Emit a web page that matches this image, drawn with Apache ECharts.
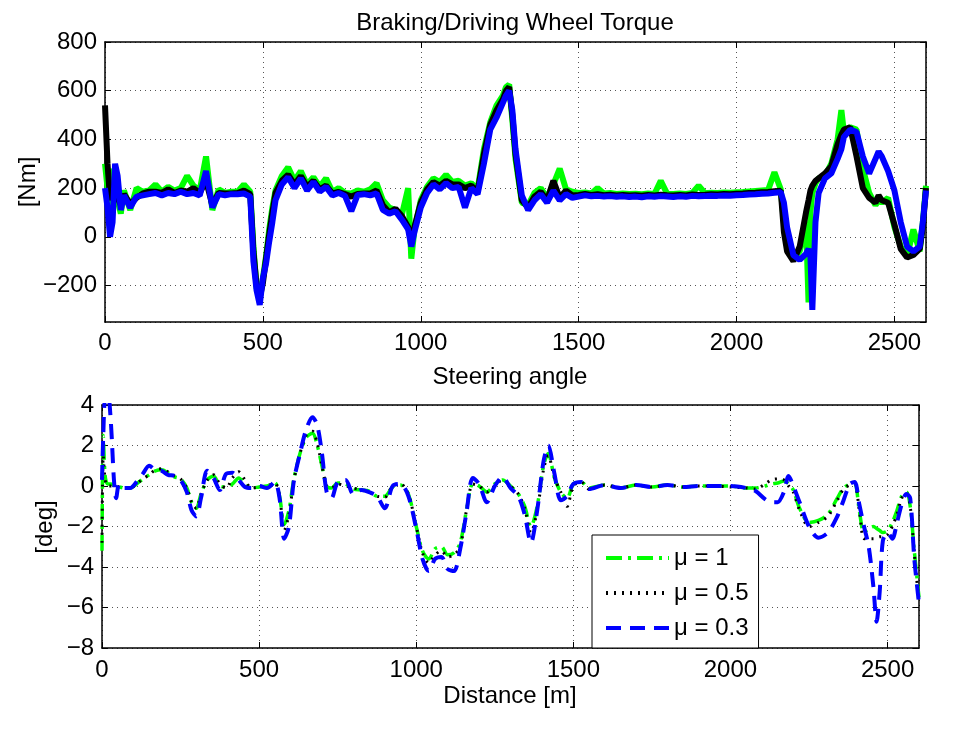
<!DOCTYPE html>
<html>
<head>
  <meta charset="utf-8">
  <title>Braking/Driving Wheel Torque</title>
  <script src="https://cdn.jsdelivr.net/npm/echarts@6.0.0/dist/echarts.min.js"></script>
  <style>
    html, body { margin: 0; padding: 0; background: #fff; }
    #main { width: 957px; height: 730px; }
  </style>
</head>
<body>
  <div id="main"></div>
<script>
(function() {
  // top panel: wheel torque [Nm] against distance
  const torqueDist = [
    0, 8, 16, 24, 32, 40, 50, 60, 80, 100, 120, 140, 160, 180, 200, 220, 240, 260, 280, 300,
    320, 340, 360, 380, 400, 420, 440, 460,
    470, 480, 490, 500, 510, 520, 530, 540, 560, 580, 600, 620, 640, 660, 680, 700, 720, 740, 760, 780,
    800, 820, 840, 860, 880, 900, 920, 940, 960, 970, 980, 1000, 1020, 1040, 1060, 1080, 1100, 1120,
    1140, 1160, 1180,
    1200, 1220, 1240, 1260, 1270, 1280, 1290, 1300, 1320, 1340, 1360, 1380, 1400, 1420, 1440, 1460, 1480,
    1500, 1520, 1540, 1560, 1580, 1600, 1620, 1640, 1660, 1680, 1700, 1720, 1740, 1760, 1780, 1800,
    1820, 1840, 1860, 1880, 1900, 1920, 1940, 1960, 1980, 2000, 2020, 2040, 2060, 2080, 2100, 2120, 2140,
    2150, 2160, 2180, 2200, 2220, 2228, 2234, 2240, 2250, 2260, 2280, 2300, 2320, 2332, 2340, 2360,
    2380, 2400, 2420, 2440, 2450, 2460, 2480, 2500, 2520, 2540, 2560, 2580, 2590, 2600
  ];
  const torqueMu1 = [
    300, 200, 60, 280, 200, 150, 95, 190, 110, 200, 185, 190, 215, 185, 205, 190, 200, 250, 210, 190,
    330, 110, 195, 180, 185, 185, 215, 185,
    -40, -210, -240, -170, -80, 30, 120, 190, 250, 285, 230, 270, 215, 245, 205, 240, 185, 200, 180, 178,
    190, 185, 195, 220, 150, 120, 110, 90, 200, -90, 30, 150, 205, 240, 225, 255, 225, 230,
    210, 220, 195,
    360, 470, 540, 580, 615, 625, 480, 320, 140, 130, 180, 200, 160, 215, 280, 195, 185,
    180, 182, 178, 200, 178, 180, 176, 178, 176, 177, 175, 178, 176, 230, 177, 176,
    178, 176, 180, 210, 179, 181, 180, 182, 181, 183, 184, 186, 188, 190, 192, 265, 195,
    60, -30, -90, -60, 60, -270, 100, 180, 220, 240, 250, 300, 400, 520, 430, 450,
    440, 280, 180, 130, 150, 140, 160, 40, -40, -80, 30, -60, 60, 210
  ];
  const torqueMu05 = [
    540, 300, 150, 200, 180, 160, 130, 175, 135, 160, 178, 185, 185, 180, 195, 180, 190, 185, 200, 180,
    230, 130, 180, 178, 178, 180, 190, 175,
    -60, -200, -250, -190, -90, 10, 100, 180, 230, 255, 215, 250, 205, 230, 195, 210, 178, 184, 175, 165,
    176, 178, 178, 190, 130, 100, 115, 85, 40, -20, 40, 140, 195, 225, 210, 230, 215, 215,
    200, 210, 185,
    340, 460, 520, 565, 600, 615, 500, 340, 150, 120, 165, 185, 150, 230, 160, 190, 170,
    172, 176, 172, 175, 171, 173, 170, 172, 170, 171, 169, 172, 170, 173, 171, 170,
    172, 170, 174, 172, 173, 175, 174, 176, 175, 177, 178, 180, 181, 183, 184, 187, 189,
    20, -60, -100, -40, 100, 150, 190, 210, 230, 240, 260, 290, 380, 420, 440, 450,
    330, 200, 160, 140, 170, 150, 140, 50, -50, -85, -75, -50, 40, 200
  ];
  const torqueMu03 = [
    200, 120, 0, 60, 300, 250, 110, 170, 120, 165, 170, 175, 180, 170, 180, 175, 185, 175, 180, 170,
    270, 120, 175, 170, 175, 175, 178, 165,
    -100, -220, -280, -170, -110, -20, 60, 150, 215, 245, 200, 240, 190, 225, 185, 205, 170, 180, 168, 105,
    172, 175, 170, 178, 110, 95, 105, 70, 30, -40, 20, 120, 180, 215, 195, 220, 200, 205,
    120, 200, 175,
    300, 440, 490, 550, 580, 600, 520, 360, 170, 110, 150, 175, 140, 190, 150, 175, 160,
    165, 170, 166, 168, 165, 167, 164, 166, 163, 165, 162, 166, 164, 167, 165, 163,
    166, 164, 168, 166, 167, 169, 168, 170, 169, 171, 172, 174, 175, 177, 178, 181, 183,
    140, 40, -75, -95, -70, -50, -80, -300, 60, 180, 240, 260, 320, 360, 410, 440,
    430, 330, 260, 320, 350, 330, 270, 190, 60, -40, -60, -40, 60, 190
  ];

  // bottom panel: steering angle [deg] against distance
  const angleDist = [
    0, 4, 10, 18, 28, 38, 45, 55, 70, 90,
    110, 130, 150, 170, 190, 210, 230, 250, 270, 285,
    300, 315, 335, 355, 375, 395, 415, 435, 455, 475,
    500, 525, 550, 565, 580, 595, 610, 630, 650, 670,
    685, 700, 715, 730, 750, 775, 800, 825, 850, 875,
    900, 925, 950, 975, 1000, 1020, 1040, 1060, 1080, 1100,
    1120, 1140, 1160, 1180, 1200, 1225, 1250, 1275, 1300, 1325,
    1345, 1365, 1385, 1405, 1420, 1440, 1460, 1480, 1500, 1525,
    1550, 1600, 1650, 1700, 1750, 1800, 1850, 1900, 1950, 2000,
    2050, 2080, 2110, 2130, 2150, 2170, 2185, 2200, 2220, 2250,
    2280, 2310, 2340, 2360, 2380, 2395, 2410, 2425, 2440, 2455,
    2465, 2475, 2485, 2500, 2515, 2530, 2545, 2560, 2572, 2585,
    2600
  ];
  const angleMu1 = [
    -3.2, 2.5, 0.5, 0.1, 0.1, 0.05, 0.0, -0.05, -0.1, -0.1,
    0.1, 0.35, 0.55, 0.75, 0.8, 0.65, 0.45, 0.35, -0.1, -0.8,
    -1.1, -0.4, 0.3, 0.5, 0.0, -0.05, 0.1, 0.4, 0.1, -0.1,
    -0.05, 0.0, 0.15, -0.5, -1.9, -1.2, 0.3, 1.6, 2.4, 2.6,
    2.0, 1.0, 0.0, -0.1, 0.15, 0.1, -0.15, -0.2, -0.25, -0.5,
    -0.5, -0.05, 0.05, -0.4, -2.0, -3.2, -3.6, -3.1, -3.0, -3.4,
    -3.3, -2.8, -1.2, 0.1, 0.0, -0.3, 0.1, 0.3, 0.0, -0.4,
    -1.0, -2.0, -1.0, 1.0, 1.6, 0.4, -0.3, -0.6, 0.1, 0.2,
    -0.1, 0.05, -0.1, 0.05, -0.05, 0.05, -0.05, 0.0, 0.0, 0.0,
    -0.1, -0.1, 0.0, 0.1, 0.15, 0.25, 0.1, -0.2, -1.1, -1.8,
    -1.7, -1.4, -0.6, -0.1, 0.1, 0.15, -1.2, -2.3, -2.1, -2.0,
    -2.1, -2.2, -2.3, -2.2, -1.8, -1.2, -0.5, -0.3, -1.0, -3.2,
    -5.5
  ];
  const angleMu05 = [
    -2.8, 1.5, 0.3, 0.0, 0.0, 0.0, 0.0, -0.05, -0.1, -0.1,
    0.1, 0.35, 0.55, 0.8, 0.85, 0.7, 0.5, 0.35, -0.1, -0.8,
    -1.1, -0.4, 0.3, 0.55, 0.1, -0.1, 0.4, 0.7, 0.3, -0.1,
    -0.05, 0.0, 0.15, -0.5, -2.2, -1.4, 0.2, 1.6, 2.5, 2.7,
    2.1, 1.0, 0.0, -0.1, 0.1, 0.0, -0.1, -0.2, -0.3, -0.5,
    -0.55, 0.0, 0.1, -0.4, -2.0, -3.3, -3.8, -3.4, -3.2, -3.5,
    -3.4, -3.0, -1.2, 0.1, 0.0, -0.3, 0.0, 0.3, 0.0, -0.4,
    -1.1, -2.3, -1.2, 0.8, 1.5, 0.4, -0.3, -1.0, 0.0, 0.2,
    -0.15, 0.05, -0.1, 0.05, -0.05, 0.05, -0.05, 0.0, 0.0, -0.05,
    -0.1, -0.15, 0.1, 0.3, 0.35, 0.3, 0.0, -0.3, -1.2, -2.0,
    -1.8, -1.5, -0.7, -0.15, 0.05, 0.1, -1.2, -2.6, -2.6, -2.6,
    -2.55, -2.5, -2.5, -2.4, -2.0, -1.4, -0.6, -0.35, -1.0, -3.3,
    -5.8
  ];
  const angleMu03 = [
    0.3, 2.5, 4.5, 4.6, 3.2, 0.3, -0.6, 0.1, -0.1, -0.1,
    0.2, 0.6, 1.0, 0.8, 0.75, 0.55, 0.5, 0.3, -0.3, -1.2,
    -1.5, -0.6, 0.75, 0.4, -0.2, 0.6, 0.65, 0.3, -0.05, -0.1,
    0.0, -0.1, 0.2, -0.6, -2.6, -2.0, 0.2, 1.6, 2.8, 3.4,
    3.0, 1.6, -0.3, -0.6, 0.2, 0.3, -0.4, -0.2, -0.3, -0.5,
    -1.1, 0.0, 0.1, -0.5, -2.1, -3.6, -4.2, -3.6, -3.5, -4.1,
    -4.2, -3.1, -1.3, 0.4, 0.1, -0.8, 0.0, 0.45, -0.1, -0.5,
    -1.4, -2.8, -1.2, 1.2, 2.0, 0.6, -0.7, -0.5, 0.1, 0.2,
    -0.15, 0.05, -0.1, 0.05, -0.05, 0.05, -0.05, 0.0, 0.0, 0.0,
    -0.1, -0.25, -0.65, -0.8, -0.8, -0.3, 0.5, 0.0, -0.8, -2.0,
    -2.55, -2.3, -1.5, -0.7, 0.1, 0.2, -0.9, -2.0, -3.0, -5.0,
    -6.7, -5.2, -2.7, -2.3, -2.6, -1.8, -0.9, -0.4, -0.6, -3.6,
    -5.8
  ];

  const legendNames = ['\u03bc = 1', '\u03bc = 0.5', '\u03bc = 0.3'];

  const FONT = '"Liberation Sans", Arial, Helvetica, sans-serif';
  const FS = 24;
  const pairs = (xs, ys) => xs.map((x, i) => [x, ys[i]]);
  const fmt = v => (v < 0 ? '\u2212' + Math.abs(v) : String(v));

  // MATLAB-like boxed axes: ticks inward on all four sides, dotted grid
  function xAxes(grid, margin) {
    const base = {
      type: 'value', gridIndex: grid, min: 0, max: 2600, interval: 500,
      axisLine: { onZero: false, lineStyle: { color: '#000', width: 1.5 } },
      axisTick: { inside: true, length: 6, lineStyle: { color: '#000', width: 1 } }
    };
    return [
      Object.assign({}, base, {
        position: 'bottom',
        axisLabel: { color: '#000', fontSize: FS, fontFamily: FONT, margin: margin, formatter: fmt, showMaxLabel: false },
        splitLine: { show: true, lineStyle: { color: '#555', type: [1, 4], width: 1 } }
      }),
      Object.assign({}, base, {
        position: 'top',
        axisLabel: { show: false },
        splitLine: { show: false }
      })
    ];
  }
  function yAxes(grid, range) {
    const base = Object.assign({
      type: 'value', gridIndex: grid,
      axisLine: { onZero: false, lineStyle: { color: '#000', width: 1.5 } },
      axisTick: { inside: true, length: 6, lineStyle: { color: '#000', width: 1 } }
    }, range);
    return [
      Object.assign({}, base, {
        position: 'left',
        axisLabel: { color: '#000', fontSize: FS, fontFamily: FONT, margin: 8, formatter: fmt, showMinLabel: range.min === -8 },
        splitLine: { show: true, lineStyle: { color: '#555', type: [1, 4], width: 1 } }
      }),
      Object.assign({}, base, {
        position: 'right',
        axisLabel: { show: false },
        splitLine: { show: false }
      })
    ];
  }

  const topX = xAxes(0, 9);
  const botX = xAxes(1, 10);
  const topY = yAxes(0, { min: -350, max: 800, splitNumber: 6 });
  const botY = yAxes(1, { min: -8, max: 4, interval: 2 });

  function text(str, x, y, rot) {
    return {
      type: 'text', x: x, y: y, rotation: rot || 0, silent: true,
      style: { text: str, fill: '#000', fontSize: FS, fontFamily: FONT, align: 'center', verticalAlign: 'middle' }
    };
  }

  const line = (name, xi, yi, data, color, width, type, smooth) => ({
    name: name, type: 'line', xAxisIndex: xi, yAxisIndex: yi,
    data: data, symbol: 'none', showSymbol: false, animation: false,
    smooth: smooth || false,
    lineStyle: { color: color, width: width, type: type, cap: 'butt' },
    itemStyle: { color: color }
  });

  var option = {
    backgroundColor: '#fff',
    animation: false,
    grid: [
      { left: 105, top: 42, width: 821, height: 280 },
      { left: 102, top: 405, width: 817, height: 243 }
    ],
    xAxis: [topX[0], topX[1], botX[0], botX[1]],
    yAxis: [topY[0], topY[1], botY[0], botY[1]],
    legend: {
      data: legendNames,
      orient: 'vertical', left: 592, top: 535,
      backgroundColor: '#fff', borderColor: '#000', borderWidth: 1,
      padding: [11, 10, 8, 12], itemGap: 11, itemWidth: 63, itemHeight: 14,
      selectedMode: false,
      itemStyle: { opacity: 0 },
      lineStyle: { width: 4 },
      textStyle: { color: '#000', fontSize: FS, fontFamily: FONT }
    },
    graphic: [
      text('Braking/Driving Wheel Torque', 515, 23),
      text('[Nm]', 28, 182, Math.PI / 2),
      text('Steering angle', 510, 377),
      text('[deg]', 45, 527, Math.PI / 2),
      text('Distance [m]', 510, 696)
    ],
    series: [
      line('torque 1', 0, 0, pairs(torqueDist, torqueMu1), '#00ff00', 6, 'solid'),
      line('torque 0.5', 0, 0, pairs(torqueDist, torqueMu05), '#000000', 6, 'solid'),
      line('torque 0.3', 0, 0, pairs(torqueDist, torqueMu03), '#0000ff', 6, 'solid'),
      line(legendNames[0], 2, 2, pairs(angleDist, angleMu1), '#00ff00', 3.5, [16, 6, 3, 6], 0.3),
      line(legendNames[1], 2, 2, pairs(angleDist, angleMu05), '#000000', 3, [2, 6], 0.3),
      line(legendNames[2], 2, 2, pairs(angleDist, angleMu03), '#0000ff', 4, [15, 9], 0.3)
    ]
  };

  echarts.init(document.getElementById('main')).setOption(option);
})();
</script>
</body>
</html>
